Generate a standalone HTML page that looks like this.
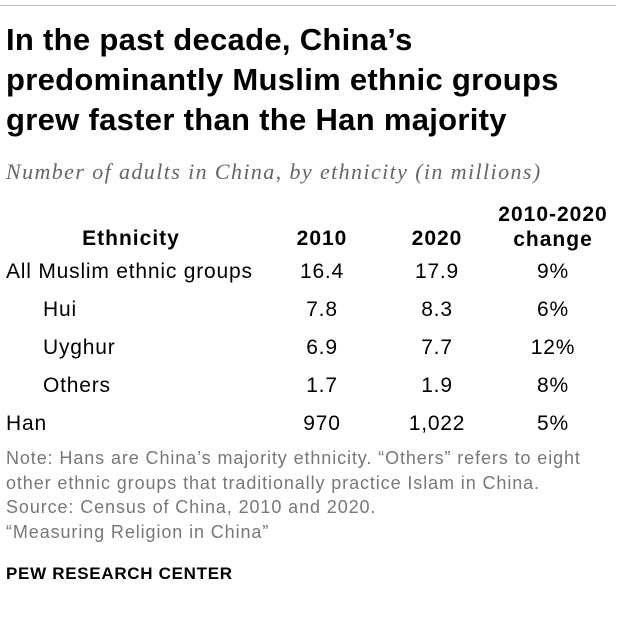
<!DOCTYPE html>
<html><head><meta charset="utf-8"><style>
body{margin:0;width:620px;height:624px;background:#fff;position:relative;font-family:"Liberation Sans",Arial,sans-serif;color:#000;overflow:hidden}
.a{position:absolute;white-space:nowrap}
.c{transform:translateX(-50%);text-align:center}
.h{font-weight:bold;font-size:21px;letter-spacing:1px}
.r{font-size:21px;letter-spacing:0.8px}
</style></head><body>
<div class="a" style="left:0;top:5px;width:616px;height:1px;background:#bbb"></div>
<div class="a" style="left:6px;top:20px;font-size:31px;letter-spacing:0.3px;font-weight:bold;line-height:40px">In the past decade, China’s<br>predominantly Muslim ethnic groups<br>grew faster than the Han majority</div>
<div class="a" style="left:6px;top:159px;font-family:'Liberation Serif',serif;font-style:italic;font-size:22px;letter-spacing:1.4px;color:#666">Number of adults in China, by ethnicity (in millions)</div>
<div id="tbl"></div>
<div class="a" style="left:6px;top:446px;font-size:18px;letter-spacing:0.9px;line-height:24.5px;color:#777">Note: Hans are China’s majority ethnicity. “Others” refers to eight<br>other ethnic groups that traditionally practice Islam in China.<br>Source: Census of China, 2010 and 2020.<br>“Measuring Religion in China”</div>
<div class="a" style="left:6px;top:564px;font-size:17px;letter-spacing:0.7px;font-weight:bold">PEW RESEARCH CENTER</div>
<script>
const groups=["All Muslim ethnic groups","Hui","Uyghur","Others","Han"];
const indent=[0,1,1,1,0];
const v2010=["16.4","7.8","6.9","1.7","970"];
const v2020=["17.9","8.3","7.7","1.9","1,022"];
const change=["9%","6%","12%","8%","5%"];
const t=document.getElementById('tbl');
function add(txt,cls,x,y,center,name){const d=document.createElement('div');d.className='a '+cls+(center?' c':'');d.style.left=x+'px';d.style.top=y+'px';d.innerHTML=txt;


t.appendChild(d);}
add('Ethnicity','h',131,227,true,'header-ethnicity');
add('2010','h',322,227,true,'header-2010');
add('2020','h',437,227,true,'header-2020');
add('<div style="line-height:25px">2010-2020<br>change</div>','h',553,202,true,'header-change');
groups.forEach((g,i)=>{const y=260+i*38;
add(g,'r',indent[i]?43:6,y,false,'row-label');
add(v2010[i],'r',322,y,true,'value-2010');
add(v2020[i],'r',437,y,true,'value-2020');
add(change[i],'r',553,y,true,'value-change');});
</script>
</body></html>
